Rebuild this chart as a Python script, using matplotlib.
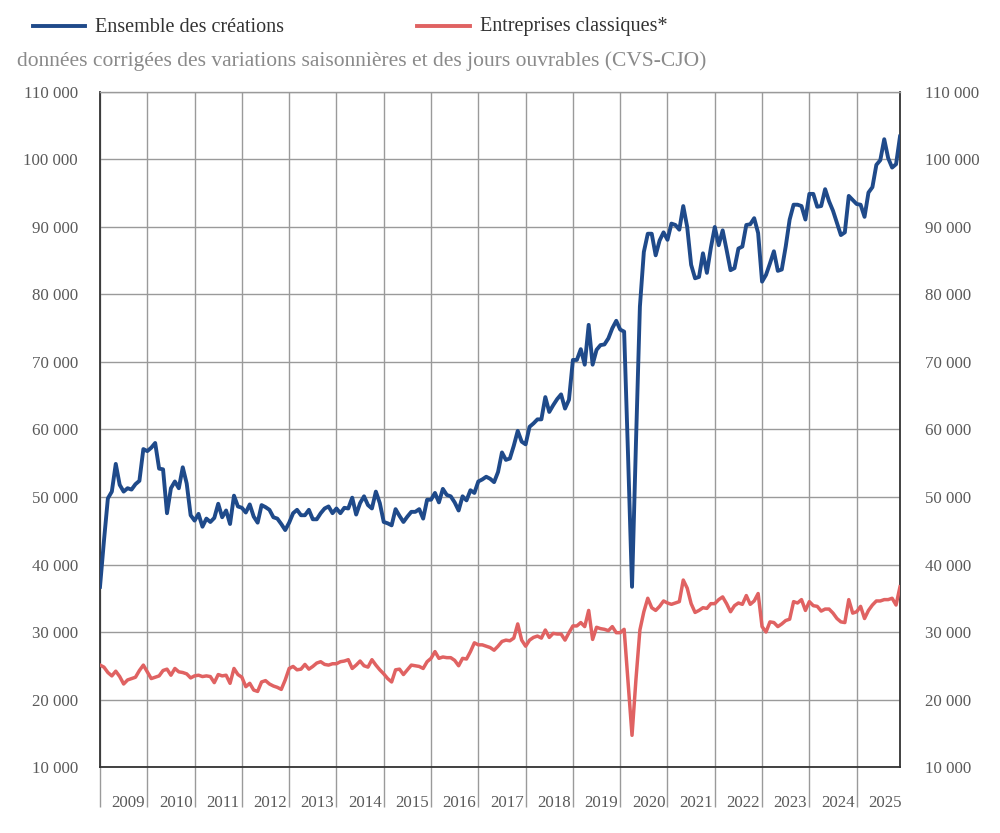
import numpy as np
import matplotlib
matplotlib.use("Agg")
import matplotlib.pyplot as plt
from matplotlib.lines import Line2D
from matplotlib.ticker import FuncFormatter

# ─────────────────────────────────────────────
# DATA (monthly, Jan 2009 -> Dec 2025, in thousands)
# ─────────────────────────────────────────────
years = list(range(2009, 2026))

ensemble = [
    36.7, 43.5, 49.8, 50.8, 54.9, 51.8, 50.8, 51.3, 51.1, 51.9, 52.4, 57.1,  # 2009
    56.8, 57.3, 58.0, 54.2, 54.1, 47.6, 51.3, 52.3, 51.3, 54.4, 52.0, 47.3,  # 2010
    46.5, 47.5, 45.6, 46.8, 46.3, 46.9, 49.0, 47.0, 48.0, 46.0, 50.2, 48.6,  # 2011
    48.4, 47.7, 48.9, 47.1, 46.2, 48.8, 48.5, 48.1, 47.0, 46.8, 46.0, 45.1,  # 2012
    46.2, 47.6, 48.1, 47.3, 47.3, 48.1, 46.7, 46.7, 47.6, 48.3, 48.6, 47.6,  # 2013
    48.3, 47.6, 48.4, 48.3, 49.9, 47.4, 49.1, 50.1, 48.8, 48.3, 50.8, 49.1,  # 2014
    46.3, 46.1, 45.8, 48.2, 47.2, 46.3, 47.1, 47.8, 47.8, 48.2, 46.8, 49.6,  # 2015
    49.6, 50.6, 49.2, 51.2, 50.3, 50.1, 49.2, 48.0, 50.1, 49.5, 51.0, 50.6,  # 2016
    52.3, 52.6, 53.0, 52.7, 52.2, 53.7, 56.6, 55.5, 55.7, 57.6, 59.8, 58.2,  # 2017
    57.8, 60.4, 60.9, 61.5, 61.5, 64.8, 62.6, 63.6, 64.5, 65.2, 63.1, 64.4,  # 2018
    70.3, 70.3, 71.9, 69.6, 75.5, 69.6, 71.8, 72.5, 72.6, 73.5, 75.0, 76.1,  # 2019
    74.8, 74.5, 56.0, 36.7, 58.0, 78.2, 86.3, 89.0, 89.0, 85.8, 88.0, 89.2,  # 2020
    88.1, 90.5, 90.3, 89.6, 93.1, 90.0, 84.4, 82.4, 82.6, 86.1, 83.2, 86.9,  # 2021
    90.0, 87.3, 89.5, 86.6, 83.6, 83.9, 86.8, 87.1, 90.3, 90.4, 91.3, 89.1,  # 2022
    81.9, 82.9, 84.6, 86.4, 83.5, 83.7, 87.1, 91.1, 93.3, 93.3, 93.1, 91.1,  # 2023
    94.9, 94.9, 93.0, 93.1, 95.6, 93.8, 92.4, 90.6, 88.8, 89.2, 94.6, 94.0,  # 2024
    93.4, 93.3, 91.5, 95.1, 95.9, 99.2, 99.9, 103.0, 100.2, 98.8, 99.3, 103.4,  # 2025
]

classiques = [
    25.1, 24.8, 24.0, 23.5, 24.2, 23.4, 22.3, 22.9, 23.1, 23.3, 24.3, 25.1,  # 2009
    24.1, 23.1, 23.3, 23.5, 24.3, 24.5, 23.6, 24.6, 24.1, 24.0, 23.8, 23.2,  # 2010
    23.5, 23.6, 23.4, 23.5, 23.4, 22.5, 23.7, 23.5, 23.6, 22.4, 24.6, 23.7,  # 2011
    23.3, 21.9, 22.4, 21.4, 21.2, 22.6, 22.8, 22.3, 22.0, 21.8, 21.5, 22.9,  # 2012
    24.6, 24.9, 24.4, 24.5, 25.2, 24.5, 24.9, 25.4, 25.6, 25.2, 25.1, 25.3,  # 2013
    25.3, 25.6, 25.7, 25.9, 24.6, 25.1, 25.7, 25.0, 24.8, 25.9, 25.1, 24.4,  # 2014
    23.8, 23.1, 22.6, 24.4, 24.5, 23.7, 24.4, 25.1, 25.0, 24.9, 24.6, 25.6,  # 2015
    26.1, 27.1, 26.1, 26.3, 26.2, 26.2, 25.8, 25.0, 26.1, 26.0, 27.1, 28.4,  # 2016
    28.1, 28.1, 27.9, 27.7, 27.3, 27.9, 28.6, 28.8, 28.7, 29.1, 31.2, 28.8,  # 2017
    27.9, 28.8, 29.2, 29.4, 29.1, 30.3, 29.2, 29.8, 29.7, 29.7, 28.8, 29.9,  # 2018
    30.9, 30.9, 31.4, 30.8, 33.2, 28.9, 30.7, 30.5, 30.4, 30.2, 30.8, 29.9,  # 2019
    29.9, 30.4, 22.5, 14.7, 23.0, 30.3, 33.0, 35.0, 33.6, 33.2, 33.8, 34.6,  # 2020
    34.3, 34.1, 34.3, 34.5, 37.7, 36.5, 34.2, 32.9, 33.2, 33.6, 33.5, 34.2,  # 2021
    34.2, 34.8, 35.2, 34.2, 33.0, 33.9, 34.3, 34.1, 35.4, 34.1, 34.6, 35.7,  # 2022
    30.8, 30.0, 31.5, 31.4, 30.8, 31.2, 31.7, 31.9, 34.5, 34.3, 34.8, 33.2,  # 2023
    34.5, 33.9, 33.8, 33.1, 33.4, 33.4, 32.8, 32.0, 31.5, 31.4, 34.8, 32.8,  # 2024
    33.0, 33.8, 32.0, 33.2, 34.0, 34.6, 34.6, 34.8, 34.8, 35.0, 34.0, 36.7,  # 2025
]

label_ensemble = "Ensemble des créations"
label_classiques = "Entreprises classiques*"
subtitle = "données corrigées des variations saisonnières et des jours ouvrables (CVS-CJO)"

# ─────────────────────────────────────────────
# STYLE
# ─────────────────────────────────────────────
BLUE = "#1f4a8a"
RED = "#e06262"
GRID = "#9a9a9a"
TXT = "#5a5a5a"
plt.rcParams["font.family"] = ["Liberation Serif", "DejaVu Serif"]

months = np.arange(len(ensemble))
y_ens = np.array(ensemble) * 1000
y_cla = np.array(classiques) * 1000

# ─────────────────────────────────────────────
# PLOT
# ─────────────────────────────────────────────
fig = plt.figure(figsize=(10, 8.33), dpi=100)
ax = fig.add_axes([0.1, 0.0792, 0.8, 0.8104])

ax.plot(months, y_ens, color=BLUE, lw=2.8, solid_joinstyle="round", zorder=3)
ax.plot(months, y_cla, color=RED, lw=2.5, solid_joinstyle="round", zorder=3)

ax.set_xlim(0, len(ensemble) - 1)
ax.set_ylim(10000, 110000)
ax.set_yticks(np.arange(10000, 110001, 10000))
ax.yaxis.set_major_formatter(FuncFormatter(lambda v, p: f"{int(v):,}".replace(",", " ")))
ax.tick_params(axis="y", length=0, labelsize=12.2, labelcolor=TXT, pad=15.8)

# right-hand labels (same scale, own padding)
ax_r = ax.twinx()
ax_r.set_ylim(ax.get_ylim())
ax_r.set_yticks(ax.get_yticks())
ax_r.yaxis.set_major_formatter(ax.yaxis.get_major_formatter())
ax_r.tick_params(axis="y", length=0, labelsize=12.2, labelcolor=TXT, pad=18)
for s in ax_r.spines.values():
    s.set_visible(False)

# year boundaries: gridlines + long ticks below the axis, labels in between
bounds = [12 * i for i in range(len(years))]
ax.set_xticks(bounds)
ax.set_xticklabels([])
ax.tick_params(axis="x", which="major", length=29, width=1, color=GRID, direction="out")
ax.set_xticks([12 * i + 7.2 for i in range(len(years))], minor=True)
ax.set_xticklabels([str(y) for y in years], minor=True)
ax.tick_params(axis="x", which="minor", length=0, labelsize=12.2, labelcolor=TXT, pad=20)

ax.grid(True, which="major", color=GRID, lw=1)
ax.set_axisbelow(True)
for side in ["left", "right", "bottom"]:
    ax.spines[side].set_color("#333333")
    ax.spines[side].set_linewidth(1.3)
ax.spines["top"].set_color(GRID)
ax.spines["top"].set_linewidth(1)

# legend + subtitle drawn at the top
fig.add_artist(Line2D([0.033, 0.085], [1 - 26 / 833] * 2, color=BLUE, lw=2.8))
fig.text(0.095, 1 - 27 / 833, label_ensemble, fontsize=14.5, color="#333333", va="center")
fig.add_artist(Line2D([0.417, 0.470], [1 - 26 / 833] * 2, color=RED, lw=2.8))
fig.text(0.480, 1 - 27 / 833, label_classiques, fontsize=14.5, color="#333333", va="center")
fig.text(0.017, 1 - 61 / 833, subtitle, fontsize=15.5, color="#8a8a8a", va="center")

fig.savefig("out.png", dpi=100, facecolor="white")
